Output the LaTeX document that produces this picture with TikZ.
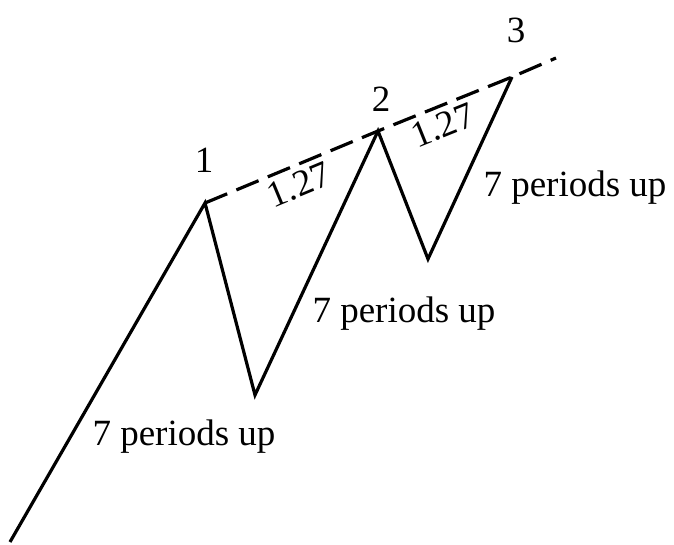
\documentclass[tikz,border=0pt]{standalone}
\usepackage{fontspec}
\setmainfont{Liberation Serif}
\begin{document}
\begin{tikzpicture}[
    x=0.5pt, y=-0.5pt,
    wave/.style={line width=1.6pt, line join=miter},
    trendline/.style={line width=1.6pt, dash pattern=on 12pt off 5pt},
    lbl/.style={font=\fontsize{18.5}{22}\selectfont, inner sep=1pt},
    ratio/.style={font=\fontsize{18.5}{22}\selectfont, inner sep=2.5pt, sloped, below},
]
\useasboundingbox (0,0) rectangle (674,545);
% turning points
\coordinate (start) at (10,542);
\coordinate (p1) at (205,203);
\coordinate (low1) at (255,395);
\coordinate (p2) at (378,131);
\coordinate (low2) at (428,259);
\coordinate (p3) at (512,77);
\coordinate (trendend) at (556,58);
% price path
\draw[wave] (start) -- (p1) -- (low1) -- (p2) -- (low2) -- (p3);
% trend line through the tops
\draw[trendline] (p1) -- node[ratio] {1.27} (p2) -- node[ratio, pos=0.43] {1.27} (p3) -- (trendend);
% labels
\node[lbl] (n1) at (204,160) {1};
\node[lbl] (n2) at (381,99) {2};
\node[lbl] (n3) at (516,30) {3};
\node[lbl] (up1) at (184,437) {7 periods up};
\node[lbl] (up2) at (404,314) {7 periods up};
\node[lbl] (up3) at (575,188) {7 periods up};
\end{tikzpicture}
\end{document}
